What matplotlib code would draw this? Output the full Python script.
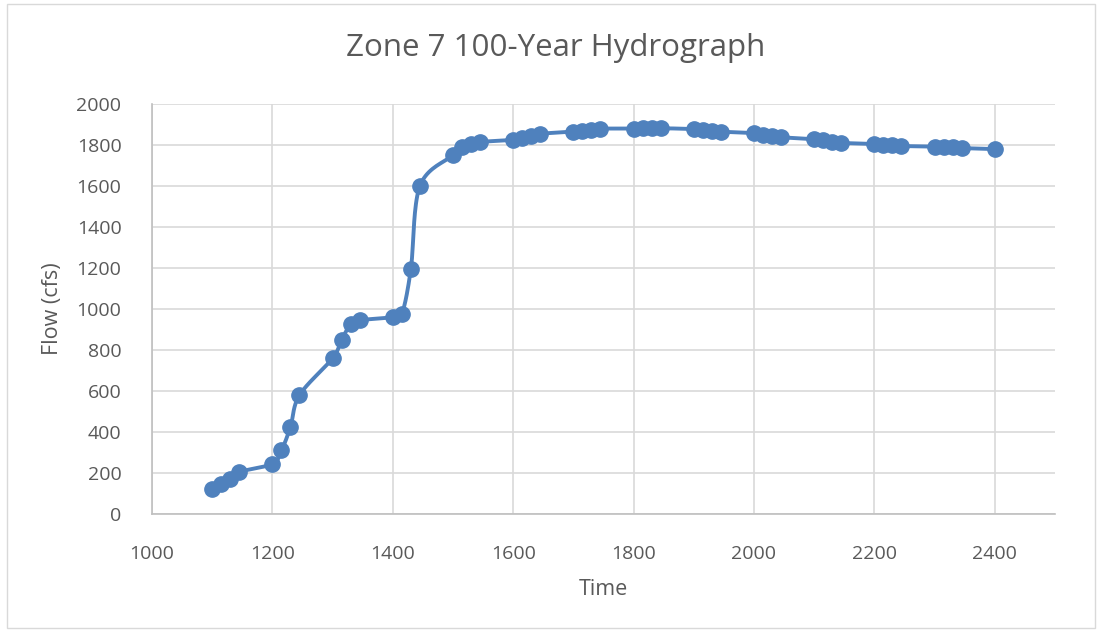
import matplotlib.pyplot as plt
import numpy as np
from matplotlib.patches import Rectangle

# Time in HHMM, 15 min steps
times = [1100, 1115, 1130, 1145, 1200, 1215, 1230, 1245, 1300, 1315, 1330, 1345,
         1400, 1415, 1430, 1445, 1500, 1515, 1530, 1545, 1600, 1615, 1630, 1645,
         1700, 1715, 1730, 1745, 1800, 1815, 1830, 1845, 1900, 1915, 1930, 1945,
         2000, 2015, 2030, 2045, 2100, 2115, 2130, 2145, 2200, 2215, 2230, 2245,
         2300, 2315, 2330, 2345, 2400]
flow = [120, 145, 170, 205, 245, 310, 425, 580, 760, 850, 925, 945,
        960, 975, 1195, 1600, 1750, 1790, 1805, 1815, 1825, 1835, 1845, 1855,
        1865, 1870, 1875, 1880, 1880, 1882, 1882, 1882, 1878, 1875, 1870, 1865,
        1858, 1850, 1845, 1838, 1828, 1825, 1815, 1810, 1805, 1800, 1798, 1795,
        1792, 1790, 1788, 1785, 1780]

x_ticks = [1000, 1200, 1400, 1600, 1800, 2000, 2200, 2400]
y_ticks = [0, 200, 400, 600, 800, 1000, 1200, 1400, 1600, 1800, 2000]

BLUE = '#4F81BD'
GRAY_TXT = '#595959'
GRID = '#D9D9D9'


def smooth(xs, ys, n=20):
    # catmull-rom style curve through the points, like the Excel smoothed line
    xs = np.asarray(xs, float)
    ys = np.asarray(ys, float)
    px = np.concatenate([[xs[0]], xs, [xs[-1]]])
    py = np.concatenate([[ys[0]], ys, [ys[-1]]])
    out_x, out_y = [], []
    t = np.linspace(0, 1, n, endpoint=False)
    for i in range(1, len(px) - 2):
        p0, p1, p2, p3 = i - 1, i, i + 1, i + 2
        for arr, out in ((px, out_x), (py, out_y)):
            a, b, c, d = arr[p0], arr[p1], arr[p2], arr[p3]
            m1 = (c - a) / 6.0
            m2 = (d - b) / 6.0
            c1 = b + m1
            c2 = c - m2
            out.extend((1 - t) ** 3 * b + 3 * (1 - t) ** 2 * t * c1
                       + 3 * (1 - t) * t ** 2 * c2 + t ** 3 * c)
    out_x.append(xs[-1])
    out_y.append(ys[-1])
    return out_x, out_y


plt.rcParams['font.family'] = ['Open Sans', 'DejaVu Sans']

fig = plt.figure(figsize=(11.01, 6.3), dpi=100)
fig.patches.append(Rectangle((7 / 1101, 2 / 630), 1088 / 1101, 624 / 630,
                             transform=fig.transFigure, fill=False,
                             edgecolor='#D9D9D9', linewidth=1))

ax = fig.add_axes([152 / 1101, 1 - 514 / 630, (1055 - 152) / 1101, (514 - 104) / 630])

sx, sy = smooth(times, flow)
ax.plot(sx, sy, color=BLUE, linewidth=2.8, zorder=3)
ax.plot(times, flow, 'o', color=BLUE, markersize=11, zorder=4)

ax.set_xlim(1000, 2500)
ax.set_ylim(0, 2000)
ax.set_xticks(x_ticks)
ax.set_yticks(y_ticks)
ax.grid(True, color=GRID, linewidth=1.2)
ax.set_axisbelow(True)

for s in ['top', 'right']:
    ax.spines[s].set_visible(False)
for s in ['left', 'bottom']:
    ax.spines[s].set_color('#BFBFBF')
    ax.spines[s].set_linewidth(1.2)

ax.tick_params(length=0, labelsize=14, labelcolor=GRAY_TXT)
ax.tick_params(axis='x', pad=22)
ax.tick_params(axis='y', pad=22)

ax.set_xlabel('Time', fontsize=15.5, color=GRAY_TXT, labelpad=12)
ax.set_ylabel('Flow (cfs)', fontsize=15.5, color=GRAY_TXT, labelpad=10)
fig.text(556 / 1101, 1 - 48 / 630, 'Zone 7 100-Year Hydrograph', ha='center',
         va='center', fontsize=22.5, color=GRAY_TXT)

fig.savefig('out.png', dpi=100)
